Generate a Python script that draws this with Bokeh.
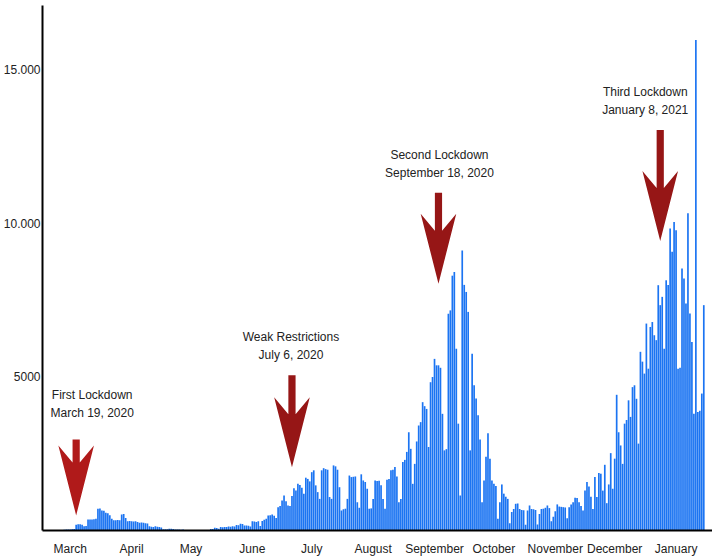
import pandas as pd
from bokeh.plotting import figure
from bokeh.models import Range1d, FixedTicker
from bokeh.embed import file_html
from bokeh.resources import INLINE
from bokeh.core.properties import value

# ---------------- data ----------------
start_date = "2020-03-08"
daily_cases = [
    5,
    10, 10, 15, 20, 25, 30, 30, 35, 40, 50,
    190, 200, 200, 190, 140, 150,
    360, 355, 360, 365, 380,
    705, 720, 650, 640, 575, 560,
    500, 380, 330, 330, 340, 330,
    520, 540, 410,
    300, 310, 300, 290, 300, 280, 250, 260, 250, 240, 230,
    140, 120, 110, 140, 120, 110, 100,
    40, 40, 40, 55, 55, 50, 30, 30, 30, 25, 30, 10,
    10, 8, 12, 10, 5, 8, 10, 15, 10, 8, 12, 15,
    45, 45, 90, 85, 55,
    110, 105, 115, 110, 130, 125, 135, 130,
    180, 175, 220, 215, 160, 165, 155, 130,
    300, 290, 280, 300, 150, 310, 350, 380, 490, 500, 520, 480, 410,
    760, 800, 980, 1140, 950, 815, 800, 1120, 1380, 1300, 1520, 1480, 1390, 1200,
    1720, 1680, 1600, 1900, 1960, 1470, 1250, 1030, 1960, 2030, 2000, 1980, 1090, 1030,
    2120, 2090, 1980, 1410, 650, 690, 710, 1030, 1790, 1740, 1750, 1760, 920, 740,
    1830, 1630, 1580, 1360, 710, 720, 1030, 1630, 1610, 1620, 1470, 1030, 710, 1650,
    1680, 1960, 1980, 2070, 1760, 920,
    1030, 2230, 2300, 2560, 3200, 2660, 1520, 2170, 2900, 3420, 3530, 4180, 4050, 3960,
    2720, 4830, 5000, 5590, 5380, 5380, 5300, 3800, 2610, 2650, 7060, 7170, 8300, 8420,
    5920, 3480, 1140,
    9120, 8000, 7770, 7120, 2610, 5760, 4730, 4300, 3750, 2960, 920, 1630, 2400, 3170,
    2340, 1630, 1520, 1450, 380, 920, 1500, 1200, 1100, 1030, 240, 600, 700, 870,
    880, 700, 670, 660, 185, 650, 815, 700, 690, 670, 195, 540, 700, 710,
    740, 815, 730, 300, 450, 630, 850, 780, 770, 760, 750, 400, 760, 850,
    920, 1070, 1060, 920, 800, 650, 1300, 1580, 1430, 1100, 700, 1740, 1090, 1870,
    1850, 1300, 2140, 890, 1500, 2520, 1360, 2340, 4420,
    3200, 2770, 2170, 3480, 3600, 4240, 3700, 4670, 4730, 4290, 2830, 5820, 5500, 5110,
    6740, 5270, 6630, 6790, 6360, 6200, 7990, 7340, 7610, 5920, 8150, 8000, 9840, 9080,
    10050, 9780, 5270, 5300, 8530, 8210, 7390, 10330, 7070, 6140, 3800, 15980, 3860, 3900,
    4460, 7340,
]

month_labels = ["March", "April", "May", "June", "July", "August", "September",
                "October", "November", "December", "January"]
y_ticks = [5000, 10000, 15000]
y_tick_labels = ["5000", "10.000", "15.000"]

event_titles = ["First Lockdown", "Weak Restrictions", "Second Lockdown", "Third Lockdown"]
event_dates = ["2020-03-19", "2020-07-06", "2020-09-18", "2021-01-08"]
event_date_labels = ["March 19, 2020", "July 6, 2020", "September 18, 2020", "January 8, 2021"]

# ---------------- layout / style ----------------
origin = pd.Timestamp("2020-03-01")
dates = pd.date_range(start_date, periods=len(daily_cases), freq="D")
day = (dates - origin).days.to_numpy()

X_START, X_END = 1.0, 339.4
Y_MAX = 17100
DAY_PX = 1.98               # pixels per day
VAL_PX = 525.0 / Y_MAX      # pixels per case

arrow_tip_val = [490, 2060, 8040, 9430]
arrow_shaft_px = [76, 92, 91, 111]
text_dx_px = [16, -1, 1, -15]
text_dy_px = [120, 130, 129, 149]
arrow_colors = ["#B01A1A", "#961616", "#961616", "#961616"]
BAR_COLOR = "#1B74F2"
TEXT_COLOR = "#222222"
FONT = "Liberation Sans"

p = figure(width=712, height=558, x_range=Range1d(X_START, X_END),
           y_range=Range1d(0, Y_MAX), output_backend="svg", toolbar_location=None,
           min_border_left=0, min_border_right=0, min_border_top=5, min_border_bottom=28)
p.outline_line_color = None
p.xgrid.visible = False
p.ygrid.visible = False
p.background_fill_color = "white"
p.border_fill_color = "white"

p.vbar(x=day, top=daily_cases, width=0.85, fill_color=BAR_COLOR, line_color=None)

# arrows
def head_pts(L):
    return [(0, 0), (17.8, 70), (3.6, 53), (3.6, L), (-3.6, L), (-3.6, 53), (-17.8, 70)]

axs, ays, tx, ty, tt = [], [], [], [], []
for i, d in enumerate(event_dates):
    td = (pd.Timestamp(d) - origin).days
    tv = arrow_tip_val[i]
    pts = head_pts(arrow_shaft_px[i])
    axs.append([td + px / DAY_PX for px, py in pts])
    ays.append([tv + py / VAL_PX for px, py in pts])
    cx = td + text_dx_px[i] / DAY_PX
    tx += [cx, cx]
    ty += [tv + text_dy_px[i] / VAL_PX, tv + (text_dy_px[i] - 18) / VAL_PX]
    tt += [event_titles[i], event_date_labels[i]]

p.patches(xs=axs, ys=ays, fill_color=arrow_colors, line_color=None)
p.text(x=tx, y=ty, text=tt, text_align="center", text_baseline="middle",
       text_font=value(FONT), text_font_size="12px", text_color=TEXT_COLOR)

# axes
month_starts = pd.date_range("2020-03-01", periods=len(month_labels), freq="MS")
month_ticks = [int((m - origin).days) + 15 for m in month_starts]
p.xaxis.ticker = FixedTicker(ticks=month_ticks)
p.xaxis.major_label_overrides = {t: lab for t, lab in zip(month_ticks, month_labels)}
p.yaxis.ticker = FixedTicker(ticks=y_ticks)
p.yaxis.major_label_overrides = {t: lab for t, lab in zip(y_ticks, y_tick_labels)}

for ax in (p.xaxis, p.yaxis):
    ax.axis_line_color = "black"
    ax.axis_line_width = 2
    ax.major_tick_line_color = None
    ax.minor_tick_line_color = None
    ax.major_tick_out = 0
    ax.major_tick_in = 0
    ax.major_label_text_font = FONT
    ax.major_label_text_font_size = "12px"
    ax.major_label_text_color = TEXT_COLOR
p.xaxis.major_label_standoff = 11
p.yaxis.major_label_standoff = 2

open("out.html", "w").write(file_html(p, INLINE))
